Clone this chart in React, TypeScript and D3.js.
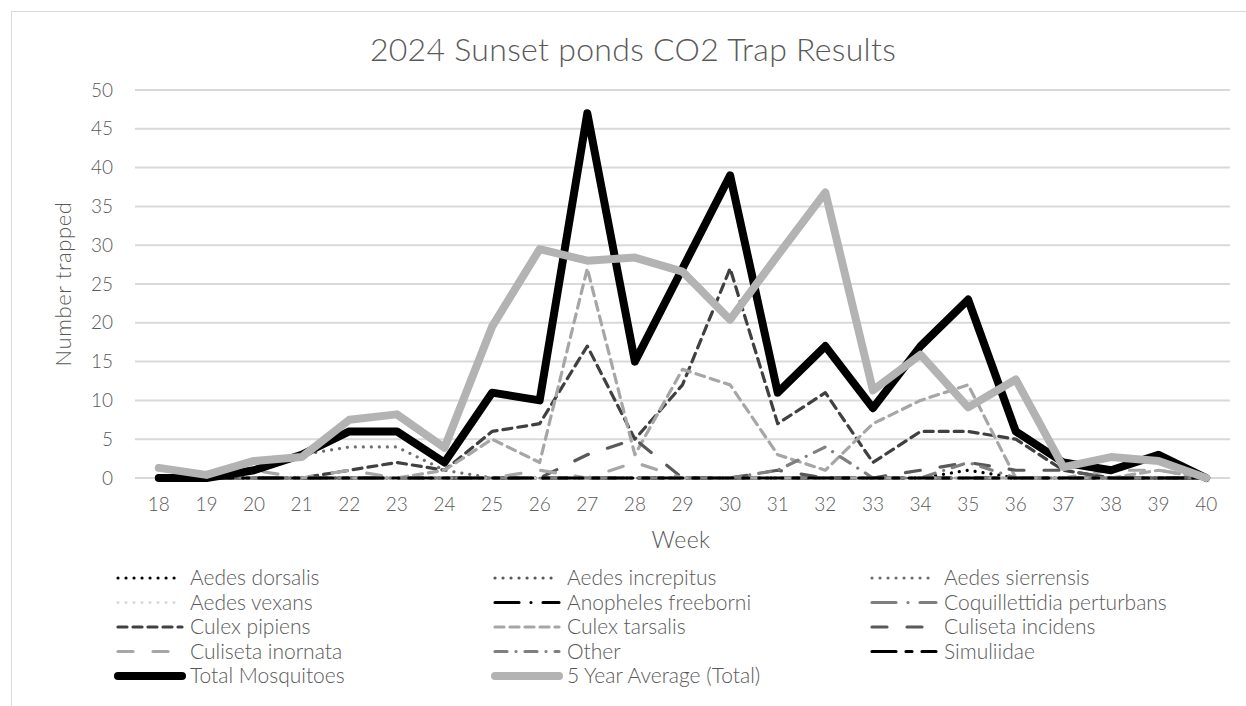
import React from "react";
import * as d3 from "d3";

const weeks = ["18","19","20","21","22","23","24","25","26","27","28","29","30","31","32","33","34","35","36","37","38","39","40"];
const yTicks = [0, 5, 10, 15, 20, 25, 30, 35, 40, 45, 50];

const aedesDorsalis = [0,0,0,0,0,0,0,0,0,0,0,0,0,0,0,0,0,1,0,0,0,0,0];
const aedesIncrepitus = [0,0,0,0,0,0,0,0,0,0,0,0,0,0,0,0,0,0,0,0,0,0,0];
const aedesSierrensis = [0,0,1,3,4,4,1,0,0,0,0,0,0,0,0,0,0,0,0,0,0,0,0];
const aedesVexans = [0,0,0,0,0,0,0,0,0,0,0,0,0,0,0,0,0,0,0,0,0,0,0];
const anophelesFreeborni = [0,0,0,0,0,0,0,0,0,0,0,0,0,0,0,0,0,0,0,0,0,0,0];
const coquillettidiaPerturbans = [0,0,0,0,0,0,0,0,0,0,0,0,0,0,0,0,0,0,0,0,0,0,0];
const culexPipiens = [0,0,0,0,1,2,1,6,7,17,5,12,27,7,11,2,6,6,5,1,0,0,0];
const culexTarsalis = [0,0,0,0,0,0,1,5,2,27,3,14,12,3,1,7,10,12,0,0,0,1,0];
const culisetaIncidens = [0,0,0,0,0,0,0,0,0,3,5,0,0,1,0,0,1,2,1,1,0,0,0];
const culisetaInornata = [0,0,1,0,1,0,0,0,1,0,2,0,0,0,0,0,0,0,0,0,1,1,0];
const other = [0,0,0,0,0,0,0,0,0,0,0,0,0,1,4,0,0,2,0,0,0,0,0];
const simuliidae = [0,0,0,0,0,0,0,0,0,0,0,0,0,0,0,0,0,0,0,0,0,0,0];
const totalMosquitoes = [0,0,1,3,6,6,2,11,10,47,15,27,39,11,17,9,17,23,6,2,1,3,0];
const fiveYearAverage = [1.3,0.4,2.2,2.7,7.5,8.2,3.9,19.5,29.5,28,28.4,26.6,20.4,28.7,36.8,11.3,15.9,9.1,12.7,1.4,2.7,2.2,0];

type Style = { color: string; width: number; dash?: string; cap: "round" | "butt" | "square" };

const seriesList: { name: string; values: number[]; style: Style }[] = [
  { name: "Aedes dorsalis", values: aedesDorsalis, style: { color: "#000000", width: 3.2, dash: "0.01 8", cap: "round" } },
  { name: "Aedes increpitus", values: aedesIncrepitus, style: { color: "#595959", width: 3.2, dash: "0.01 8", cap: "round" } },
  { name: "Aedes sierrensis", values: aedesSierrensis, style: { color: "#6e6e6e", width: 3.2, dash: "0.01 8", cap: "round" } },
  { name: "Aedes vexans", values: aedesVexans, style: { color: "#d9d9d9", width: 3.2, dash: "0.01 8", cap: "round" } },
  { name: "Anopheles freeborni", values: anophelesFreeborni, style: { color: "#000000", width: 3.2, dash: "24 12 0.01 12", cap: "round" } },
  { name: "Coquillettidia perturbans", values: coquillettidiaPerturbans, style: { color: "#7f7f7f", width: 3.2, dash: "24 12 0.01 12", cap: "round" } },
  { name: "Culex pipiens", values: culexPipiens, style: { color: "#404040", width: 3.2, dash: "9 6", cap: "round" } },
  { name: "Culex tarsalis", values: culexTarsalis, style: { color: "#a6a6a6", width: 3.2, dash: "9 6", cap: "round" } },
  { name: "Culiseta incidens", values: culisetaIncidens, style: { color: "#595959", width: 3.2, dash: "15 20", cap: "round" } },
  { name: "Culiseta inornata", values: culisetaInornata, style: { color: "#a6a6a6", width: 3.2, dash: "15 20", cap: "round" } },
  { name: "Other", values: other, style: { color: "#7f7f7f", width: 3.2, dash: "12 9 0.01 9", cap: "round" } },
  { name: "Simuliidae", values: simuliidae, style: { color: "#000000", width: 3.2, dash: "24 10 6 10", cap: "round" } },
  { name: "Total Mosquitoes", values: totalMosquitoes, style: { color: "#000000", width: 8, cap: "round" } },
  { name: "5 Year Average (Total)", values: fiveYearAverage, style: { color: "#b3b3b3", width: 8, cap: "round" } },
];

const W = 1246;
const H = 706;
const plotLeft = 135;
const plotRight = 1230;
const plotTop = 90;
const plotBottom = 478;
const FONT = "Lato, 'Open Sans', sans-serif";
const TXT = "#595959";

export default function App() {
  const x = d3.scaleBand<string>().domain(weeks).range([plotLeft, plotRight]);
  const y = d3.scaleLinear().domain([0, 50]).range([plotBottom, plotTop]);
  const cx = (w: string) => (x(w) ?? 0) + x.bandwidth() / 2;

  const line = d3
    .line<number>()
    .x((_, i) => cx(weeks[i]))
    .y((v) => y(v));

  const legendCols = [118, 495, 872];
  const legendRow0 = 578;
  const legendRowStep = 24.5;
  const legendLineLen = 64;

  return (
    <svg
      width={W}
      height={H}
      style={{ position: "absolute", left: 0, top: 0, background: "#ffffff" }}
      fontFamily={FONT}
    >
      <rect x={0} y={0} width={W} height={H} fill="#ffffff" />
      <rect x={11.5} y={11.5} width={W + 20} height={H + 20} fill="none" stroke="#d9d9d9" strokeWidth={1} />

      <text x={633} y={61} textAnchor="middle" fontSize={32} fontWeight={300} letterSpacing={0.3} fill={TXT}>
        2024 Sunset ponds CO2 Trap Results
      </text>

      {yTicks.map((t) => (
        <g key={t}>
          <line x1={plotLeft} x2={plotRight} y1={y(t)} y2={y(t)} stroke="#d9d9d9" strokeWidth={2} />
          <text x={113} y={y(t)} dy="0.35em" textAnchor="end" fontSize={19} fontWeight={300} fill={TXT}>
            {t}
          </text>
        </g>
      ))}

      {weeks.map((w) => (
        <text key={w} x={cx(w)} y={511} textAnchor="middle" fontSize={19} fontWeight={300} fill={TXT}>
          {w}
        </text>
      ))}

      <text x={681} y={548} textAnchor="middle" fontSize={23} fontWeight={300} letterSpacing={0.5} fill={TXT}>
        Week
      </text>
      <text
        transform={`translate(71, ${(plotTop + plotBottom) / 2}) rotate(-90)`}
        textAnchor="middle"
        fontSize={22}
        fontWeight={300}
        letterSpacing={0.6}
        fill={TXT}
      >
        Number trapped
      </text>

      {seriesList.map((s) => (
        <path
          key={s.name}
          d={line(s.values) ?? ""}
          fill="none"
          stroke={s.style.color}
          strokeWidth={s.style.width}
          strokeDasharray={s.style.dash}
          strokeLinecap={s.style.cap}
          strokeLinejoin="round"
        />
      ))}

      {seriesList.map((s, i) => {
        const col = i % 3;
        const row = Math.floor(i / 3);
        const lx = legendCols[col];
        const ly = legendRow0 + row * legendRowStep;
        return (
          <g key={"lg" + s.name}>
            <line
              x1={lx}
              x2={lx + legendLineLen}
              y1={ly}
              y2={ly}
              stroke={s.style.color}
              strokeWidth={s.style.width}
              strokeDasharray={s.style.dash}
              strokeLinecap={s.style.cap}
            />
            <text x={lx + legendLineLen + 8} y={ly} dy="0.35em" fontSize={21} fontWeight={300} fill={TXT}>
              {s.name}
            </text>
          </g>
        );
      })}
    </svg>
  );
}
